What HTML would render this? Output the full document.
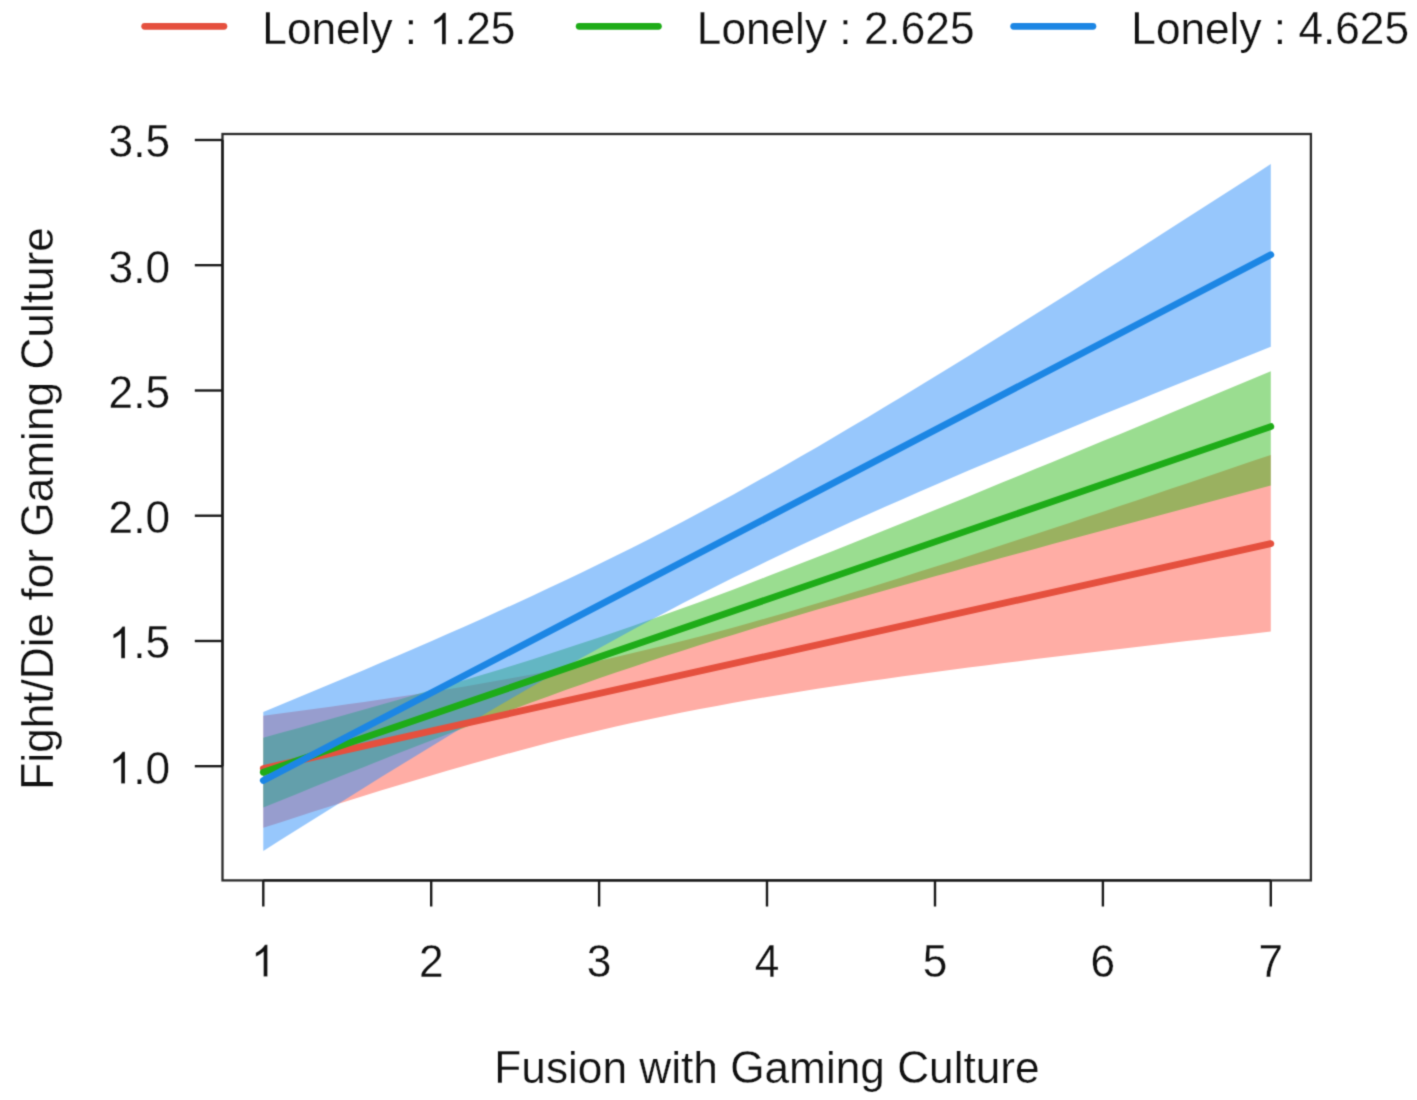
<!DOCTYPE html>
<html><head><meta charset="utf-8"><style>
html,body{margin:0;padding:0;background:#fff;}
body{width:1417px;height:1100px;overflow:hidden;font-family:"Liberation Sans",sans-serif;}
svg{display:block;}
</style></head><body>
<svg width="1417" height="1100" viewBox="0 0 1417 1100">
<defs><filter id="bl" x="0" y="0" width="1417" height="1100" filterUnits="userSpaceOnUse" color-interpolation-filters="sRGB"><feConvolveMatrix order="3" kernelMatrix="0.027682 0.111015 0.027682 0.111015 0.445213 0.111015 0.027682 0.111015 0.027682" divisor="1" edgeMode="duplicate" preserveAlpha="true"/></filter></defs>
<g filter="url(#bl)">
<rect width="1417" height="1100" fill="#fff"/>
<path d="M263.3,715.7 L280.1,713.5 L296.9,711.2 L313.7,709.0 L330.5,706.7 L347.3,704.3 L364.1,702.0 L380.8,699.5 L397.6,697.0 L414.4,694.5 L431.2,691.9 L448.0,689.2 L464.8,686.4 L481.6,683.5 L498.4,680.6 L515.2,677.5 L532.0,674.4 L548.8,671.1 L565.5,667.8 L582.3,664.3 L599.1,660.7 L615.9,656.9 L632.7,653.1 L649.5,649.1 L666.3,645.0 L683.1,640.7 L699.9,636.4 L716.7,631.9 L733.5,627.4 L750.3,622.7 L767.0,618.0 L783.8,613.2 L800.6,608.2 L817.4,603.3 L834.2,598.2 L851.0,593.1 L867.8,587.9 L884.6,582.7 L901.4,577.4 L918.2,572.1 L935.0,566.8 L951.8,561.4 L968.5,555.9 L985.3,550.5 L1002.1,545.0 L1018.9,539.5 L1035.7,534.0 L1052.5,528.4 L1069.3,522.9 L1086.1,517.3 L1102.9,511.7 L1119.7,506.0 L1136.5,500.4 L1153.3,494.8 L1170.0,489.1 L1186.8,483.4 L1203.6,477.7 L1220.4,472.0 L1237.2,466.3 L1254.0,460.6 L1270.8,454.9 L1270.8,631.6 L1254.0,633.4 L1237.2,635.4 L1220.4,637.3 L1203.6,639.2 L1186.8,641.1 L1170.0,643.1 L1153.3,645.0 L1136.5,647.0 L1119.7,649.0 L1102.9,651.0 L1086.1,653.0 L1069.3,655.0 L1052.5,657.0 L1035.7,659.1 L1018.9,661.2 L1002.1,663.3 L985.3,665.4 L968.5,667.6 L951.8,669.8 L935.0,672.0 L918.2,674.3 L901.4,676.6 L884.6,678.9 L867.8,681.3 L851.0,683.8 L834.2,686.3 L817.4,688.8 L800.6,691.5 L783.8,694.2 L767.0,697.0 L750.3,699.8 L733.5,702.8 L716.7,705.9 L699.9,709.0 L683.1,712.3 L666.3,715.7 L649.5,719.2 L632.7,722.8 L615.9,726.6 L599.1,730.5 L582.3,734.5 L565.5,738.6 L548.8,742.8 L532.0,747.2 L515.2,751.7 L498.4,756.2 L481.6,760.9 L464.8,765.7 L448.0,770.5 L431.2,775.4 L414.4,780.4 L397.6,785.5 L380.8,790.6 L364.1,795.8 L347.3,801.0 L330.5,806.3 L313.7,811.6 L296.9,817.0 L280.1,822.4 L263.3,827.8 Z" fill="rgb(255,81,64)" fill-opacity="0.47"/>
<path d="M263.3,737.7 L280.1,733.1 L296.9,728.4 L313.7,723.7 L330.5,719.0 L347.3,714.3 L364.1,709.5 L380.8,704.7 L397.6,699.9 L414.4,695.0 L431.2,690.1 L448.0,685.2 L464.8,680.1 L481.6,675.1 L498.4,669.9 L515.2,664.7 L532.0,659.4 L548.8,654.1 L565.5,648.6 L582.3,643.1 L599.1,637.5 L615.9,631.8 L632.7,626.0 L649.5,620.1 L666.3,614.1 L683.1,608.0 L699.9,601.9 L716.7,595.7 L733.5,589.4 L750.3,583.0 L767.0,576.6 L783.8,570.1 L800.6,563.6 L817.4,557.0 L834.2,550.4 L851.0,543.8 L867.8,537.1 L884.6,530.3 L901.4,523.6 L918.2,516.8 L935.0,510.0 L951.8,503.2 L968.5,496.4 L985.3,489.5 L1002.1,482.6 L1018.9,475.7 L1035.7,468.8 L1052.5,461.9 L1069.3,455.0 L1086.1,448.1 L1102.9,441.1 L1119.7,434.2 L1136.5,427.2 L1153.3,420.3 L1170.0,413.3 L1186.8,406.3 L1203.6,399.3 L1220.4,392.3 L1237.2,385.3 L1254.0,378.3 L1270.8,371.3 L1270.8,485.6 L1254.0,490.1 L1237.2,494.5 L1220.4,499.0 L1203.6,503.5 L1186.8,508.0 L1170.0,512.5 L1153.3,517.0 L1136.5,521.5 L1119.7,526.0 L1102.9,530.5 L1086.1,535.0 L1069.3,539.6 L1052.5,544.1 L1035.7,548.7 L1018.9,553.3 L1002.1,557.8 L985.3,562.4 L968.5,567.1 L951.8,571.7 L935.0,576.3 L918.2,581.0 L901.4,585.7 L884.6,590.4 L867.8,595.2 L851.0,600.0 L834.2,604.8 L817.4,609.6 L800.6,614.5 L783.8,619.5 L767.0,624.5 L750.3,629.5 L733.5,634.7 L716.7,639.8 L699.9,645.1 L683.1,650.4 L666.3,655.8 L649.5,661.3 L632.7,666.9 L615.9,672.6 L599.1,678.3 L582.3,684.2 L565.5,690.1 L548.8,696.2 L532.0,702.3 L515.2,708.5 L498.4,714.7 L481.6,721.1 L464.8,727.5 L448.0,733.9 L431.2,740.4 L414.4,747.0 L397.6,753.6 L380.8,760.2 L364.1,766.9 L347.3,773.6 L330.5,780.3 L313.7,787.1 L296.9,793.9 L280.1,800.7 L263.3,807.5 Z" fill="rgb(40,183,19)" fill-opacity="0.47"/>
<path d="M263.3,712.0 L280.1,705.1 L296.9,698.1 L313.7,691.1 L330.5,684.1 L347.3,677.1 L364.1,670.0 L380.8,662.8 L397.6,655.7 L414.4,648.4 L431.2,641.2 L448.0,633.8 L464.8,626.4 L481.6,618.9 L498.4,611.3 L515.2,603.7 L532.0,596.0 L548.8,588.1 L565.5,580.2 L582.3,572.2 L599.1,564.0 L615.9,555.8 L632.7,547.4 L649.5,538.9 L666.3,530.2 L683.1,521.4 L699.9,512.5 L716.7,503.5 L733.5,494.4 L750.3,485.1 L767.0,475.7 L783.8,466.2 L800.6,456.6 L817.4,446.9 L834.2,437.0 L851.0,427.1 L867.8,417.2 L884.6,407.1 L901.4,397.0 L918.2,386.8 L935.0,376.5 L951.8,366.2 L968.5,355.9 L985.3,345.5 L1002.1,335.0 L1018.9,324.5 L1035.7,314.0 L1052.5,303.5 L1069.3,292.9 L1086.1,282.3 L1102.9,271.6 L1119.7,261.0 L1136.5,250.3 L1153.3,239.6 L1170.0,228.8 L1186.8,218.1 L1203.6,207.3 L1220.4,196.5 L1237.2,185.8 L1254.0,174.9 L1270.8,164.1 L1270.8,346.8 L1254.0,353.5 L1237.2,360.2 L1220.4,367.0 L1203.6,373.7 L1186.8,380.5 L1170.0,387.3 L1153.3,394.1 L1136.5,400.9 L1119.7,407.8 L1102.9,414.6 L1086.1,421.5 L1069.3,428.4 L1052.5,435.4 L1035.7,442.4 L1018.9,449.4 L1002.1,456.4 L985.3,463.5 L968.5,470.6 L951.8,477.8 L935.0,485.0 L918.2,492.3 L901.4,499.7 L884.6,507.1 L867.8,514.5 L851.0,522.1 L834.2,529.7 L817.4,537.5 L800.6,545.3 L783.8,553.2 L767.0,561.2 L750.3,569.4 L733.5,577.6 L716.7,586.0 L699.9,594.5 L683.1,603.1 L666.3,611.9 L649.5,620.8 L632.7,629.8 L615.9,638.9 L599.1,648.2 L582.3,657.6 L565.5,667.1 L548.8,676.7 L532.0,686.4 L515.2,696.2 L498.4,706.1 L481.6,716.1 L464.8,726.1 L448.0,736.2 L431.2,746.4 L414.4,756.7 L397.6,767.0 L380.8,777.3 L364.1,787.7 L347.3,798.2 L330.5,808.7 L313.7,819.2 L296.9,829.7 L280.1,840.3 L263.3,850.9 Z" fill="rgb(43,141,249)" fill-opacity="0.49"/>
<line x1="263.3" y1="768.5" x2="1270.8" y2="543.6" stroke="#E5503E" stroke-width="6.8" stroke-linecap="round"/>
<line x1="263.3" y1="772.3" x2="1270.8" y2="426.6" stroke="#1EAC18" stroke-width="6.8" stroke-linecap="round"/>
<line x1="263.3" y1="780.5" x2="1270.8" y2="254.8" stroke="#1C86E4" stroke-width="6.8" stroke-linecap="round"/>
<rect x="222.5" y="134.0" width="1088.4" height="746.4" fill="none" stroke="#2a2a2a" stroke-width="2.3"/>
<line x1="263.3" y1="880.4" x2="1270.8" y2="880.4" stroke="#1a1a1a" stroke-width="2.4"/>
<line x1="263.3" y1="880.4" x2="263.3" y2="906.5" stroke="#1a1a1a" stroke-width="2.4"/>
<g transform="translate(251.01,976.50)"><path d="M763 0L583 0L583 1147C540 1106 483 1064 413 1023C343 982 280 951 223 930L223 1104C323 1151 410 1208 485 1275C560 1342 613 1407 644 1466L763 1466Z" fill="#111" stroke="#fff" stroke-width="11.6" transform="translate(0.00,0) scale(0.021582,-0.021582)"/></g>
<line x1="431.2" y1="880.4" x2="431.2" y2="906.5" stroke="#1a1a1a" stroke-width="2.4"/>
<g transform="translate(418.93,976.50)"><text transform="translate(0.00,0) scale(1,1.04)" font-size="44.2" font-family="Liberation Sans, sans-serif" fill="#111" stroke="#fff" stroke-width="0.25" xml:space="preserve">2</text></g>
<line x1="599.1" y1="880.4" x2="599.1" y2="906.5" stroke="#1a1a1a" stroke-width="2.4"/>
<g transform="translate(586.84,976.50)"><text transform="translate(0.00,0) scale(1,1.04)" font-size="44.2" font-family="Liberation Sans, sans-serif" fill="#111" stroke="#fff" stroke-width="0.25" xml:space="preserve">3</text></g>
<line x1="767.0" y1="880.4" x2="767.0" y2="906.5" stroke="#1a1a1a" stroke-width="2.4"/>
<g transform="translate(754.76,976.50)"><text transform="translate(0.00,0) scale(1,1.04)" font-size="44.2" font-family="Liberation Sans, sans-serif" fill="#111" stroke="#fff" stroke-width="0.25" xml:space="preserve">4</text></g>
<line x1="935.0" y1="880.4" x2="935.0" y2="906.5" stroke="#1a1a1a" stroke-width="2.4"/>
<g transform="translate(922.68,976.50)"><text transform="translate(0.00,0) scale(1,1.04)" font-size="44.2" font-family="Liberation Sans, sans-serif" fill="#111" stroke="#fff" stroke-width="0.25" xml:space="preserve">5</text></g>
<line x1="1102.9" y1="880.4" x2="1102.9" y2="906.5" stroke="#1a1a1a" stroke-width="2.4"/>
<g transform="translate(1090.59,976.50)"><text transform="translate(0.00,0) scale(1,1.04)" font-size="44.2" font-family="Liberation Sans, sans-serif" fill="#111" stroke="#fff" stroke-width="0.25" xml:space="preserve">6</text></g>
<line x1="1270.8" y1="880.4" x2="1270.8" y2="906.5" stroke="#1a1a1a" stroke-width="2.4"/>
<g transform="translate(1258.51,976.50)"><text transform="translate(0.00,0) scale(1,1.04)" font-size="44.2" font-family="Liberation Sans, sans-serif" fill="#111" stroke="#fff" stroke-width="0.25" xml:space="preserve">7</text></g>
<line x1="222.5" y1="140.0" x2="222.5" y2="766.2" stroke="#1a1a1a" stroke-width="2.4"/>
<line x1="194.8" y1="140.0" x2="222.5" y2="140.0" stroke="#1a1a1a" stroke-width="2.4"/>
<g transform="translate(108.56,157.30)"><text transform="translate(0.00,0) scale(1,1.04)" font-size="44.2" font-family="Liberation Sans, sans-serif" fill="#111" stroke="#fff" stroke-width="0.25" xml:space="preserve">3</text><text transform="translate(24.58,0) scale(1,1.0)" font-size="44.2" font-family="Liberation Sans, sans-serif" fill="#111" stroke="#fff" stroke-width="0.25" xml:space="preserve">.</text><text transform="translate(36.86,0) scale(1,1.04)" font-size="44.2" font-family="Liberation Sans, sans-serif" fill="#111" stroke="#fff" stroke-width="0.25" xml:space="preserve">5</text></g>
<line x1="194.8" y1="265.2" x2="222.5" y2="265.2" stroke="#1a1a1a" stroke-width="2.4"/>
<g transform="translate(108.56,282.54)"><text transform="translate(0.00,0) scale(1,1.04)" font-size="44.2" font-family="Liberation Sans, sans-serif" fill="#111" stroke="#fff" stroke-width="0.25" xml:space="preserve">3</text><text transform="translate(24.58,0) scale(1,1.0)" font-size="44.2" font-family="Liberation Sans, sans-serif" fill="#111" stroke="#fff" stroke-width="0.25" xml:space="preserve">.</text><text transform="translate(36.86,0) scale(1,1.04)" font-size="44.2" font-family="Liberation Sans, sans-serif" fill="#111" stroke="#fff" stroke-width="0.25" xml:space="preserve">0</text></g>
<line x1="194.8" y1="390.5" x2="222.5" y2="390.5" stroke="#1a1a1a" stroke-width="2.4"/>
<g transform="translate(108.56,407.78)"><text transform="translate(0.00,0) scale(1,1.04)" font-size="44.2" font-family="Liberation Sans, sans-serif" fill="#111" stroke="#fff" stroke-width="0.25" xml:space="preserve">2</text><text transform="translate(24.58,0) scale(1,1.0)" font-size="44.2" font-family="Liberation Sans, sans-serif" fill="#111" stroke="#fff" stroke-width="0.25" xml:space="preserve">.</text><text transform="translate(36.86,0) scale(1,1.04)" font-size="44.2" font-family="Liberation Sans, sans-serif" fill="#111" stroke="#fff" stroke-width="0.25" xml:space="preserve">5</text></g>
<line x1="194.8" y1="515.7" x2="222.5" y2="515.7" stroke="#1a1a1a" stroke-width="2.4"/>
<g transform="translate(108.56,533.02)"><text transform="translate(0.00,0) scale(1,1.04)" font-size="44.2" font-family="Liberation Sans, sans-serif" fill="#111" stroke="#fff" stroke-width="0.25" xml:space="preserve">2</text><text transform="translate(24.58,0) scale(1,1.0)" font-size="44.2" font-family="Liberation Sans, sans-serif" fill="#111" stroke="#fff" stroke-width="0.25" xml:space="preserve">.</text><text transform="translate(36.86,0) scale(1,1.04)" font-size="44.2" font-family="Liberation Sans, sans-serif" fill="#111" stroke="#fff" stroke-width="0.25" xml:space="preserve">0</text></g>
<line x1="194.8" y1="641.0" x2="222.5" y2="641.0" stroke="#1a1a1a" stroke-width="2.4"/>
<g transform="translate(108.56,658.26)"><path d="M763 0L583 0L583 1147C540 1106 483 1064 413 1023C343 982 280 951 223 930L223 1104C323 1151 410 1208 485 1275C560 1342 613 1407 644 1466L763 1466Z" fill="#111" stroke="#fff" stroke-width="11.6" transform="translate(0.00,0) scale(0.021582,-0.021582)"/><text transform="translate(24.58,0) scale(1,1.0)" font-size="44.2" font-family="Liberation Sans, sans-serif" fill="#111" stroke="#fff" stroke-width="0.25" xml:space="preserve">.</text><text transform="translate(36.86,0) scale(1,1.04)" font-size="44.2" font-family="Liberation Sans, sans-serif" fill="#111" stroke="#fff" stroke-width="0.25" xml:space="preserve">5</text></g>
<line x1="194.8" y1="766.2" x2="222.5" y2="766.2" stroke="#1a1a1a" stroke-width="2.4"/>
<g transform="translate(108.56,783.50)"><path d="M763 0L583 0L583 1147C540 1106 483 1064 413 1023C343 982 280 951 223 930L223 1104C323 1151 410 1208 485 1275C560 1342 613 1407 644 1466L763 1466Z" fill="#111" stroke="#fff" stroke-width="11.6" transform="translate(0.00,0) scale(0.021582,-0.021582)"/><text transform="translate(24.58,0) scale(1,1.0)" font-size="44.2" font-family="Liberation Sans, sans-serif" fill="#111" stroke="#fff" stroke-width="0.25" xml:space="preserve">.</text><text transform="translate(36.86,0) scale(1,1.04)" font-size="44.2" font-family="Liberation Sans, sans-serif" fill="#111" stroke="#fff" stroke-width="0.25" xml:space="preserve">0</text></g>
<g transform="translate(494.32,1083.30)"><text transform="translate(0.00,0) scale(1,1.04)" font-size="44.2" font-family="Liberation Sans, sans-serif" fill="#111" stroke="#fff" stroke-width="0.25" xml:space="preserve">F</text><text transform="translate(27.00,0) scale(1,0.985)" font-size="44.2" font-family="Liberation Sans, sans-serif" fill="#111" stroke="#fff" stroke-width="0.25" xml:space="preserve">usion</text><text transform="translate(144.94,0) scale(1,0.985)" font-size="44.2" font-family="Liberation Sans, sans-serif" fill="#111" stroke="#fff" stroke-width="0.25" xml:space="preserve">with</text><text transform="translate(235.83,0) scale(1,1.04)" font-size="44.2" font-family="Liberation Sans, sans-serif" fill="#111" stroke="#fff" stroke-width="0.25" xml:space="preserve">G</text><text transform="translate(270.21,0) scale(1,0.985)" font-size="44.2" font-family="Liberation Sans, sans-serif" fill="#111" stroke="#fff" stroke-width="0.25" xml:space="preserve">aming</text><text transform="translate(402.87,0) scale(1,1.04)" font-size="44.2" font-family="Liberation Sans, sans-serif" fill="#111" stroke="#fff" stroke-width="0.25" xml:space="preserve">C</text><text transform="translate(434.79,0) scale(1,0.985)" font-size="44.2" font-family="Liberation Sans, sans-serif" fill="#111" stroke="#fff" stroke-width="0.25" xml:space="preserve">ulture</text></g>
<g transform="translate(53.3,508.4) rotate(-90)"><g transform="translate(-281.27,0.00)"><text transform="translate(0.00,0) scale(1,1.04)" font-size="44.2" font-family="Liberation Sans, sans-serif" fill="#111" stroke="#fff" stroke-width="0.25" xml:space="preserve">F</text><text transform="translate(27.00,0) scale(1,0.985)" font-size="44.2" font-family="Liberation Sans, sans-serif" fill="#111" stroke="#fff" stroke-width="0.25" xml:space="preserve">ight</text><text transform="translate(98.26,0) scale(1,1.0)" font-size="44.2" font-family="Liberation Sans, sans-serif" fill="#111" stroke="#fff" stroke-width="0.25" xml:space="preserve">/</text><text transform="translate(110.54,0) scale(1,1.04)" font-size="44.2" font-family="Liberation Sans, sans-serif" fill="#111" stroke="#fff" stroke-width="0.25" xml:space="preserve">D</text><text transform="translate(142.46,0) scale(1,0.985)" font-size="44.2" font-family="Liberation Sans, sans-serif" fill="#111" stroke="#fff" stroke-width="0.25" xml:space="preserve">ie</text><text transform="translate(189.14,0) scale(1,0.985)" font-size="44.2" font-family="Liberation Sans, sans-serif" fill="#111" stroke="#fff" stroke-width="0.25" xml:space="preserve">for</text><text transform="translate(253.01,0) scale(1,1.04)" font-size="44.2" font-family="Liberation Sans, sans-serif" fill="#111" stroke="#fff" stroke-width="0.25" xml:space="preserve">G</text><text transform="translate(287.39,0) scale(1,0.985)" font-size="44.2" font-family="Liberation Sans, sans-serif" fill="#111" stroke="#fff" stroke-width="0.25" xml:space="preserve">aming</text><text transform="translate(420.05,0) scale(1,1.04)" font-size="44.2" font-family="Liberation Sans, sans-serif" fill="#111" stroke="#fff" stroke-width="0.25" xml:space="preserve">C</text><text transform="translate(451.97,0) scale(1,0.985)" font-size="44.2" font-family="Liberation Sans, sans-serif" fill="#111" stroke="#fff" stroke-width="0.25" xml:space="preserve">ulture</text></g></g>
<line x1="144.7" y1="26.3" x2="223.9" y2="26.3" stroke="#E5503E" stroke-width="6.8" stroke-linecap="round"/>
<g transform="translate(262.30,44.30)"><text transform="translate(0.00,0) scale(1,1.04)" font-size="44.2" font-family="Liberation Sans, sans-serif" fill="#111" stroke="#fff" stroke-width="0.25" xml:space="preserve">L</text><text transform="translate(24.58,0) scale(1,0.985)" font-size="44.2" font-family="Liberation Sans, sans-serif" fill="#111" stroke="#fff" stroke-width="0.25" xml:space="preserve">onely</text><text transform="translate(130.25,0) scale(1,1.0)" font-size="44.2" font-family="Liberation Sans, sans-serif" fill="#111" stroke="#fff" stroke-width="0.25" xml:space="preserve"> : </text><path d="M763 0L583 0L583 1147C540 1106 483 1064 413 1023C343 982 280 951 223 930L223 1104C323 1151 410 1208 485 1275C560 1342 613 1407 644 1466L763 1466Z" fill="#111" stroke="#fff" stroke-width="11.6" transform="translate(167.09,0) scale(0.021582,-0.021582)"/><text transform="translate(191.67,0) scale(1,1.0)" font-size="44.2" font-family="Liberation Sans, sans-serif" fill="#111" stroke="#fff" stroke-width="0.25" xml:space="preserve">.</text><text transform="translate(203.95,0) scale(1,1.04)" font-size="44.2" font-family="Liberation Sans, sans-serif" fill="#111" stroke="#fff" stroke-width="0.25" xml:space="preserve">25</text></g>
<line x1="579.2" y1="26.3" x2="658.4" y2="26.3" stroke="#1EAC18" stroke-width="6.8" stroke-linecap="round"/>
<g transform="translate(696.80,44.30)"><text transform="translate(0.00,0) scale(1,1.04)" font-size="44.2" font-family="Liberation Sans, sans-serif" fill="#111" stroke="#fff" stroke-width="0.25" xml:space="preserve">L</text><text transform="translate(24.58,0) scale(1,0.985)" font-size="44.2" font-family="Liberation Sans, sans-serif" fill="#111" stroke="#fff" stroke-width="0.25" xml:space="preserve">onely</text><text transform="translate(130.25,0) scale(1,1.0)" font-size="44.2" font-family="Liberation Sans, sans-serif" fill="#111" stroke="#fff" stroke-width="0.25" xml:space="preserve"> : </text><text transform="translate(167.09,0) scale(1,1.04)" font-size="44.2" font-family="Liberation Sans, sans-serif" fill="#111" stroke="#fff" stroke-width="0.25" xml:space="preserve">2</text><text transform="translate(191.67,0) scale(1,1.0)" font-size="44.2" font-family="Liberation Sans, sans-serif" fill="#111" stroke="#fff" stroke-width="0.25" xml:space="preserve">.</text><text transform="translate(203.95,0) scale(1,1.04)" font-size="44.2" font-family="Liberation Sans, sans-serif" fill="#111" stroke="#fff" stroke-width="0.25" xml:space="preserve">625</text></g>
<line x1="1013.7" y1="26.3" x2="1092.9" y2="26.3" stroke="#1C86E4" stroke-width="6.8" stroke-linecap="round"/>
<g transform="translate(1131.30,44.30)"><text transform="translate(0.00,0) scale(1,1.04)" font-size="44.2" font-family="Liberation Sans, sans-serif" fill="#111" stroke="#fff" stroke-width="0.25" xml:space="preserve">L</text><text transform="translate(24.58,0) scale(1,0.985)" font-size="44.2" font-family="Liberation Sans, sans-serif" fill="#111" stroke="#fff" stroke-width="0.25" xml:space="preserve">onely</text><text transform="translate(130.25,0) scale(1,1.0)" font-size="44.2" font-family="Liberation Sans, sans-serif" fill="#111" stroke="#fff" stroke-width="0.25" xml:space="preserve"> : </text><text transform="translate(167.09,0) scale(1,1.04)" font-size="44.2" font-family="Liberation Sans, sans-serif" fill="#111" stroke="#fff" stroke-width="0.25" xml:space="preserve">4</text><text transform="translate(191.67,0) scale(1,1.0)" font-size="44.2" font-family="Liberation Sans, sans-serif" fill="#111" stroke="#fff" stroke-width="0.25" xml:space="preserve">.</text><text transform="translate(203.95,0) scale(1,1.04)" font-size="44.2" font-family="Liberation Sans, sans-serif" fill="#111" stroke="#fff" stroke-width="0.25" xml:space="preserve">625</text></g>
</g>
</svg>
</body></html>
